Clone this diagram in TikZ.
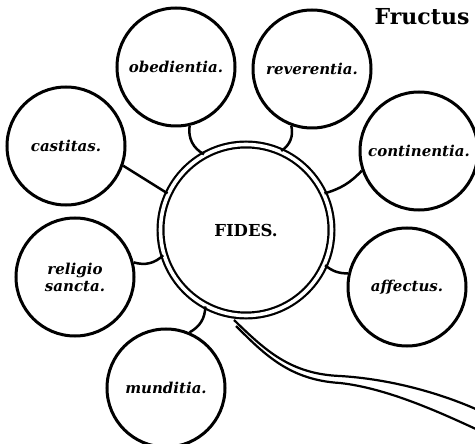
\documentclass[tikz,border=0pt]{standalone}
\usepackage{fontspec}
\setmainfont{DejaVu Serif}
\usepackage{tikz}
\usetikzlibrary{positioning}
\tikzset{
    virtue/.style={
    circle,draw=black,line width=3pt,minimum size=118pt,inner sep=0pt,
    align=center,font=\fontsize{15}{17}\selectfont\bfseries\itshape
    },
    faith/.style={
    circle,draw=black,double,double distance=3.6pt,line width=2.2pt,
    minimum size=171pt,font=\fontsize{16.5}{16.5}\selectfont\bfseries
    },
    link/.style={
    line width=2.5pt
    },
    ribbon/.style={
    line width=2.2pt
    },
}
\begin{document}
\begin{tikzpicture}[x=1pt,y=-1pt]
   \useasboundingbox (0,0) rectangle (475,444);
   \node[faith] (f) at (246,230) {FIDES.};
   \node[virtue] (o) at (176,67) {obedientia.};
   \node[virtue] (r) at (312,69) {reverentia.};
   \node[virtue] (c) at (66,146) {castitas.};
   \node[virtue] (n) at (419,151) {continentia.};
   \node[virtue] (g) at (75,277) {religio\\sancta.};
   \node[virtue] (a) at (407,287) {affectus.};
   \node[virtue] (m) at (166,388) {munditia.};
   \node[font=\fontsize{22}{22}\selectfont\bfseries] (fr) at (422,17) {Fructus};

  \path[link]
    (o.-77) edge[bend right=35] (f.119)
    (r.-110) edge[bend left=35] (f.66)
    (c.-19) edge (f.155)
    (n.-161) edge[bend left=15] (f.25)
    (g.14) edge[bend right=30] (f.-163)
    (a.167) edge[bend left=20] (f.-24)
    (m.67) edge[bend right=30] (f.-118);

  % tail
  \draw[ribbon] (234,320) .. controls (265,350) and (290,374) .. (340,376)
     .. controls (390,379) and (440,393) .. (478,410);
  \draw[ribbon] (236,326) .. controls (265,355) and (290,380) .. (340,383)
     .. controls (385,388) and (435,410) .. (478,430);
\end{tikzpicture}
\end{document}
